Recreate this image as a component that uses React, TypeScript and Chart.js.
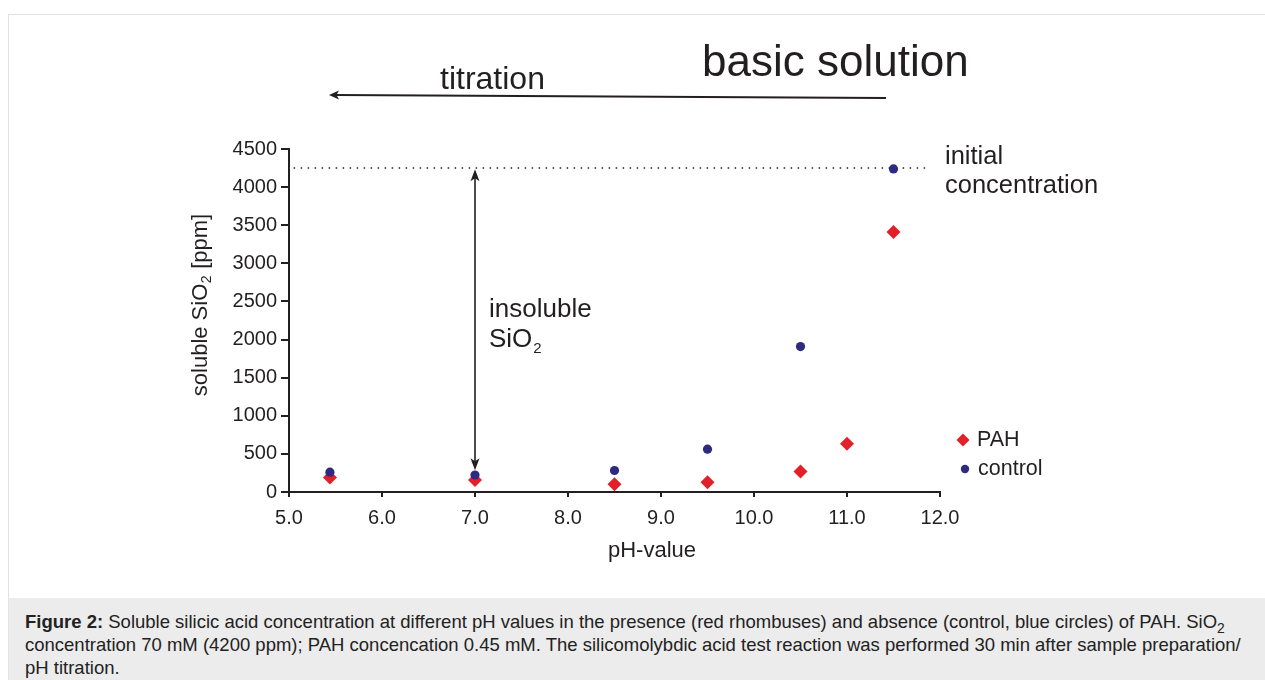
import React, { useEffect, useRef } from 'react';
import { Chart, registerables } from 'chart.js';

Chart.register(...registerables);

// ---- data ----
const PH_PAH = [5.44, 7.0, 8.5, 9.5, 10.5, 11.0, 11.5];
const PAH_VALUES = [190, 157, 102, 128, 268, 632, 3412];
const PH_CONTROL = [5.44, 7.0, 8.5, 9.5, 10.5, 11.5];
const CONTROL_VALUES = [260, 223, 282, 562, 1908, 4239];
const INITIAL_CONCENTRATION = 4250;
const INITIAL_LINE_PH = [5.05, 11.85];
const INSOLUBLE_ARROW_PH = 7.0;
const INSOLUBLE_ARROW_RANGE = [4235, 285];
const X_TICKS = [5, 6, 7, 8, 9, 10, 11, 12];
const Y_TICKS = [0, 500, 1000, 1500, 2000, 2500, 3000, 3500, 4000, 4500];
const SERIES_LABELS = ['PAH', 'control'];
const X_TITLE = 'pH-value';
const Y_TITLE = ['soluble SiO', '2', ' [ppm]'];

const RED = '#e1202a';
const BLUE = '#2e2a80';
const INK = '#231f20';
const FONT = '"Liberation Sans", Arial, Helvetica, sans-serif';

function arrowHead(ctx: CanvasRenderingContext2D, x: number, y: number, angle: number, len: number, half: number) {
  ctx.save();
  ctx.translate(x, y);
  ctx.rotate(angle);
  ctx.beginPath();
  ctx.moveTo(0, 0);
  ctx.lineTo(-len, -half);
  ctx.lineTo(-len * 0.75, 0);
  ctx.lineTo(-len, half);
  ctx.closePath();
  ctx.fill();
  ctx.restore();
}

const annotations = {
  id: 'annotations',
  afterDatasetsDraw(chart: any) {
    const ctx: CanvasRenderingContext2D = chart.ctx;
    const xs = chart.scales.x;
    const ys = chart.scales.y;
    ctx.save();
    ctx.fillStyle = INK;
    ctx.strokeStyle = INK;
    ctx.textBaseline = 'middle';
    ctx.textAlign = 'left';

    // basic solution / titration
    ctx.font = `44px ${FONT}`;
    ctx.fillText('basic solution', 702, 64);
    ctx.font = `32px ${FONT}`;
    ctx.fillText('titration', 440, 80);
    ctx.lineWidth = 2;
    ctx.beginPath();
    ctx.moveTo(886, 98);
    ctx.lineTo(336, 95);
    ctx.stroke();
    arrowHead(ctx, 329, 95, Math.PI - Math.atan2(3, 556), 10, 4.5);

    // vertical double arrow
    const ax = xs.getPixelForValue(INSOLUBLE_ARROW_PH);
    const yTop = ys.getPixelForValue(INSOLUBLE_ARROW_RANGE[0]);
    const yBot = ys.getPixelForValue(INSOLUBLE_ARROW_RANGE[1]);
    ctx.lineWidth = 1.6;
    ctx.beginPath();
    ctx.moveTo(ax, yTop + 8);
    ctx.lineTo(ax, yBot - 8);
    ctx.stroke();
    arrowHead(ctx, ax, yTop, -Math.PI / 2, 12, 4.5);
    arrowHead(ctx, ax, yBot, Math.PI / 2, 12, 4.5);

    // insoluble SiO2
    ctx.font = `26px ${FONT}`;
    ctx.fillText('insoluble', 489, 310);
    ctx.fillText('SiO', 489, 340);
    const w = ctx.measureText('SiO').width;
    ctx.font = `15px ${FONT}`;
    ctx.fillText('2', 489 + w + 1, 349);

    // initial concentration
    ctx.font = `25.5px ${FONT}`;
    ctx.fillText('initial', 945, 157);
    ctx.fillText('concentration', 945, 186);

    // axis titles
    ctx.font = `22px ${FONT}`;
    ctx.textAlign = 'center';
    ctx.fillText(X_TITLE, 652, 551);
    ctx.save();
    ctx.translate(201, 305);
    ctx.rotate(-Math.PI / 2);
    ctx.textAlign = 'left';
    const f1 = `22px ${FONT}`;
    const f2 = `14px ${FONT}`;
    ctx.font = f1;
    const wa = ctx.measureText(Y_TITLE[0]).width;
    const wc = ctx.measureText(Y_TITLE[2]).width;
    ctx.font = f2;
    const wb = ctx.measureText(Y_TITLE[1]).width;
    let px = -(wa + wb + 1 + wc) / 2;
    ctx.font = f1;
    ctx.fillText(Y_TITLE[0], px, 0);
    px += wa + 0.5;
    ctx.font = f2;
    ctx.fillText(Y_TITLE[1], px, 6);
    px += wb + 0.5;
    ctx.font = f1;
    ctx.fillText(Y_TITLE[2], px, 0);
    ctx.restore();

    // legend
    ctx.textAlign = 'left';
    ctx.font = `21.5px ${FONT}`;
    const lx = 963;
    const ly = [440, 469];
    ctx.fillStyle = RED;
    ctx.beginPath();
    ctx.moveTo(lx, ly[0] - 6.5);
    ctx.lineTo(lx + 6.5, ly[0]);
    ctx.lineTo(lx, ly[0] + 6.5);
    ctx.lineTo(lx - 6.5, ly[0]);
    ctx.closePath();
    ctx.fill();
    ctx.fillStyle = BLUE;
    ctx.beginPath();
    ctx.arc(lx + 2, ly[1], 4.2, 0, Math.PI * 2);
    ctx.fill();
    ctx.fillStyle = INK;
    ctx.fillText(SERIES_LABELS[0], 977, ly[0]);
    ctx.fillText(SERIES_LABELS[1], 978, ly[1]);
    ctx.restore();
  },
};

function ChartCanvas() {
  const ref = useRef<HTMLCanvasElement | null>(null);
  useEffect(() => {
    if (!ref.current) return;
    const chart = new Chart(ref.current, {
      type: 'scatter',
      data: {
        datasets: [
          {
            label: SERIES_LABELS[1],
            data: PH_CONTROL.map((x, i) => ({ x, y: CONTROL_VALUES[i] })),
            backgroundColor: BLUE,
            borderColor: BLUE,
            pointStyle: 'circle',
            pointRadius: 4.6,
            borderWidth: 0,
            order: 0,
          },
          {
            label: SERIES_LABELS[0],
            data: PH_PAH.map((x, i) => ({ x, y: PAH_VALUES[i] })),
            backgroundColor: RED,
            borderColor: RED,
            pointStyle: 'rectRot',
            pointRadius: 7,
            borderWidth: 0,
            order: 1,
          },
          {
            label: 'initial concentration',
            type: 'line',
            data: INITIAL_LINE_PH.map((x) => ({ x, y: INITIAL_CONCENTRATION })),
            borderColor: INK,
            borderWidth: 1.5,
            borderDash: [1.5, 5.5],
            pointRadius: 0,
            showLine: true,
            order: 2,
          } as any,
        ],
      },
      options: {
        responsive: false,
        animation: false,
        layout: { padding: { left: 189, top: 149, right: 325, bottom: 0 } },
        plugins: { legend: { display: false }, tooltip: { enabled: false } },
        scales: {
          x: {
            type: 'linear',
            min: X_TICKS[0],
            max: X_TICKS[X_TICKS.length - 1],
            afterBuildTicks: (s: any) => { s.ticks = X_TICKS.map((v) => ({ value: v })); },
            afterFit: (s: any) => { s.height = 106; },
            ticks: {
              color: INK,
              font: { family: FONT, size: 20 },
              padding: 9,
              callback: (v: any) => Number(v).toFixed(1),
              maxRotation: 0,
            },
            grid: { drawOnChartArea: false, drawTicks: true, tickLength: 5, color: INK, lineWidth: 2 },
            border: { display: true, color: INK, width: 2 },
            title: { display: false },
          },
          y: {
            type: 'linear',
            min: Y_TICKS[0],
            max: Y_TICKS[Y_TICKS.length - 1],
            afterBuildTicks: (s: any) => { s.ticks = Y_TICKS.map((v) => ({ value: v })); },
            afterFit: (s: any) => { s.width = 100; },
            ticks: {
              color: INK,
              font: { family: FONT, size: 20 },
              padding: 4,
              callback: (v: any) => String(v),
            },
            grid: { drawOnChartArea: false, drawTicks: true, tickLength: 8, color: INK, lineWidth: 2 },
            border: { display: true, color: INK, width: 2 },
            title: { display: false },
          },
        },
      },
      plugins: [annotations],
    } as any);
    return () => chart.destroy();
  }, []);
  return (
    <canvas
      ref={ref}
      width={1265}
      height={598}
      style={{ position: 'absolute', left: 0, top: 0, width: 1265, height: 598 }}
    />
  );
}

export default function App() {
  useEffect(() => {
    document.body.style.margin = '0';
  }, []);
  return (
    <div style={{ position: 'relative', width: 1265, height: 680, background: '#fff', overflow: 'hidden', fontFamily: FONT }}>
      <div
        style={{
          position: 'absolute',
          left: 8,
          top: 14,
          width: 1270,
          height: 680,
          borderTop: '1px solid #e2e2e2',
          borderLeft: '1px solid #e2e2e2',
        }}
      />
      <ChartCanvas />
      <div
        style={{
          position: 'absolute',
          left: 9,
          top: 598,
          width: 1256,
          height: 82,
          background: '#ececec',
          color: '#222',
          fontSize: 18.5,
          lineHeight: '23px',
          padding: '12px 0 0 16px',
          boxSizing: 'border-box',
          whiteSpace: 'nowrap',
        }}
      >
        <b>Figure 2:</b> Soluble silicic acid concentration at different pH values in the presence (red rhombuses) and absence (control, blue circles) of PAH. SiO<sub style={{ fontSize: '0.75em', lineHeight: 0 }}>2</sub>
        <br />
        concentration 70 mM (4200 ppm); PAH concencation 0.45 mM. The silicomolybdic acid test reaction was performed 30 min after sample preparation/
        <br />
        pH titration.
      </div>
    </div>
  );
}
